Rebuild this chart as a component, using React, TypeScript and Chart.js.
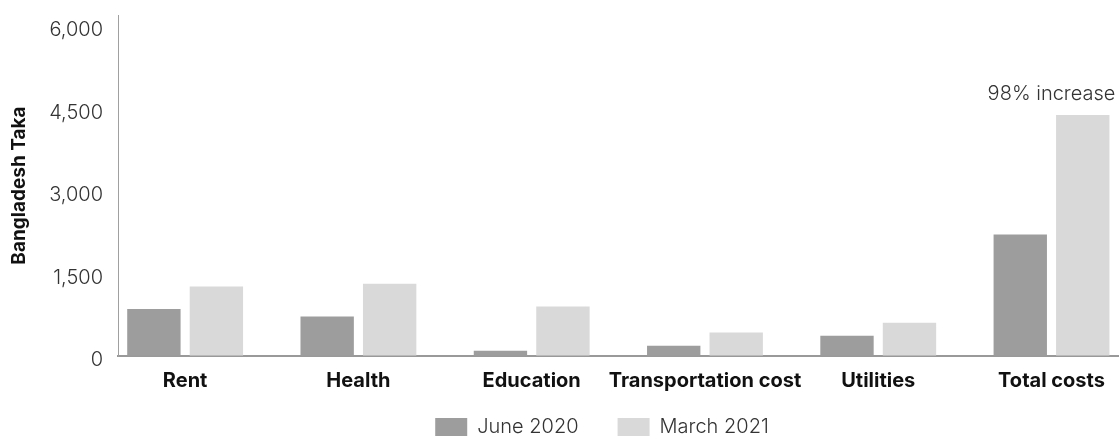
import React, { useEffect, useRef } from 'react';
import { Chart, registerables } from 'chart.js';

Chart.register(...registerables);

const categories = ['Rent', 'Health', 'Education', 'Transportation cost', 'Utilities', 'Total costs'];
const seriesLabels = ['June 2020', 'March 2021'];
const june2020 = [855, 720, 96, 187, 369, 2211];
const march2021 = [1265, 1314, 902, 429, 605, 4381];
const yTicks = [0, 1500, 3000, 4500, 6000];
const yAxisTitle = 'Bangladesh Taka';
const annotationText = '98% increase';
const annotationIndex = 5;

const FONT = 'Inter, "Noto Sans", sans-serif';

export default function App() {
  const ref = useRef<HTMLCanvasElement>(null);

  useEffect(() => {
    if (!ref.current) return;
    const annotationPlugin = {
      id: 'increaseLabel',
      afterDatasetsDraw(chart: any) {
        const { ctx, scales } = chart;
        const x = scales.x.getPixelForValue(annotationIndex);
        const y = scales.y.getPixelForValue(march2021[annotationIndex]);
        ctx.save();
        ctx.font = `300 20px ${FONT}`;
        ctx.fillStyle = '#333333';
        ctx.textAlign = 'center';
        ctx.textBaseline = 'alphabetic';
        ctx.fillText(annotationText, x, y - 15);
        ctx.restore();
      },
    };
    const legendShift = {
      id: 'legendShift',
      afterLayout(chart: any) {
        if (chart.legend) chart.legend.left = 85;
      },
    };

    const chart = new Chart(ref.current, {
      type: 'bar',
      data: {
        datasets: [
          {
            label: seriesLabels[0],
            data: june2020.map((v, i) => ({ x: i, y: v })),
            backgroundColor: '#9d9d9d',
            categoryPercentage: 0.7213,
            barPercentage: 0.854,
          },
          {
            label: seriesLabels[1],
            data: march2021.map((v, i) => ({ x: i, y: v })),
            backgroundColor: '#d9d9d9',
            categoryPercentage: 0.7213,
            barPercentage: 0.854,
          },
        ],
      },
      options: {
        animation: false,
        responsive: false,
        devicePixelRatio: 1,
        layout: { padding: { top: 15, left: 0, right: 0, bottom: 0 } },
        plugins: {
          tooltip: { enabled: false },
          legend: {
            position: 'bottom',
            fullSize: false,
            maxHeight: 62,
            labels: {
              boxWidth: 32,
              boxHeight: 18,
              padding: 39,
              color: '#333333',
              font: { family: FONT, size: 20, weight: '300' },
            },
          },
        },
        scales: {
          x: {
            type: 'linear',
            min: -0.3875,
            max: 5.3895,
            offset: false,
            afterBuildTicks: (s: any) => {
              s.ticks = categories.map((_, i) => ({ value: i }));
            },
            afterFit: (s: any) => {
              s.height = 22;
            },
            ticks: {
              autoSkip: false,
              maxRotation: 0,
              minRotation: 0,
              mirror: true,
              padding: -37,
              color: '#111111',
              font: { family: FONT, size: 20, weight: '700' },
              callback: (v: any) => categories[v] ?? '',
            },
            grid: { display: true, drawOnChartArea: false, drawTicks: false, offset: false },
            border: { display: true, color: '#999999', width: 2 },
          },
          y: {
            min: 0,
            max: 6200,
            afterBuildTicks: (s: any) => {
              s.ticks = yTicks.map((v) => ({ value: v }));
            },
            afterFit: (s: any) => {
              s.width = 118;
            },
            ticks: {
              padding: 3,
              labelOffset: 4,
              color: '#333333',
              font: { family: FONT, size: 20, weight: '300' },
              callback: (v: any) => Number(v).toLocaleString('en-US'),
            },
            grid: {
              display: true,
              drawOnChartArea: false,
              drawTicks: true,
              tickLength: 12,
              tickColor: 'rgba(0,0,0,0)',
            },
            border: { display: true, color: '#a0a0a0', width: 1 },
            title: {
              display: true,
              text: yAxisTitle,
              color: '#111111',
              font: { family: FONT, size: 19, weight: '700' },
              padding: { top: 8, bottom: 0 },
            },
          },
        },
      },
      plugins: [annotationPlugin, legendShift],
    } as any);

    return () => chart.destroy();
  }, []);

  return (
    <div style={{ position: 'fixed', left: 0, top: 0, width: 1119, height: 440, background: '#ffffff' }}>
      <canvas ref={ref} width={1119} height={440} style={{ display: 'block', width: 1119, height: 440 }} />
    </div>
  );
}
